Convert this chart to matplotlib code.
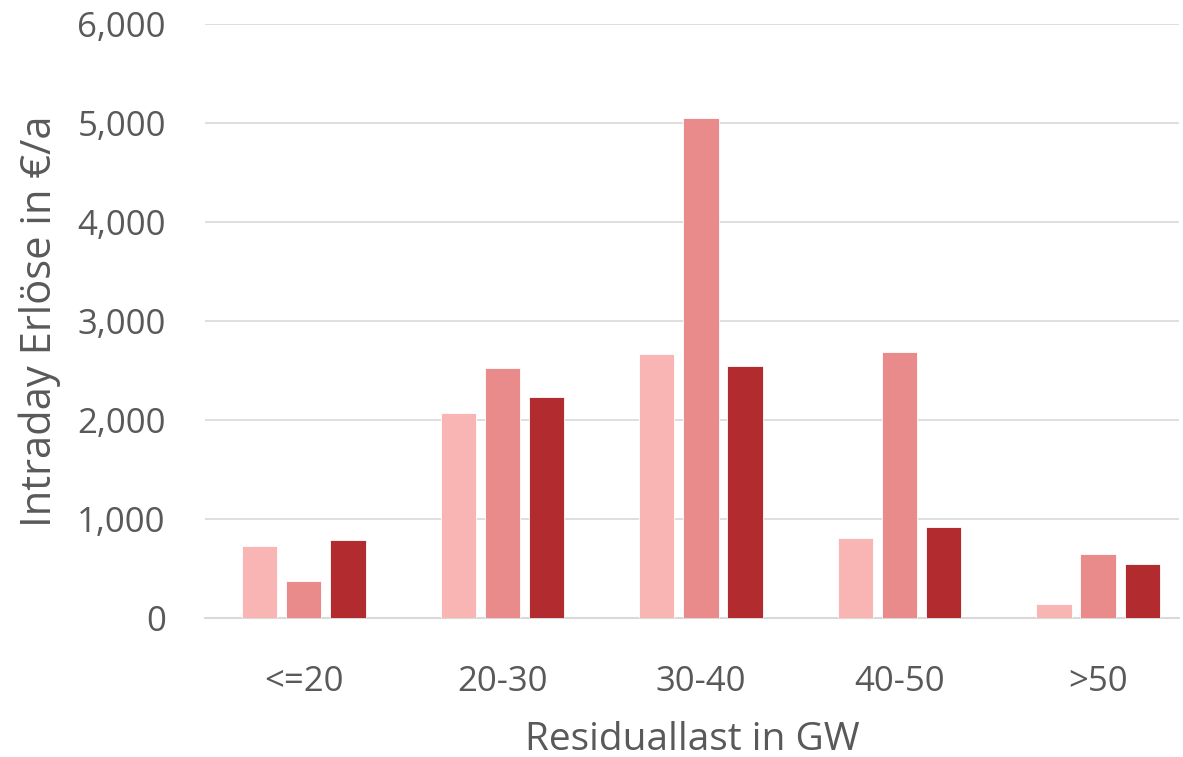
import numpy as np
import matplotlib.pyplot as plt

# data
categories = ["<=20", "20-30", "30-40", "40-50", ">50"]
series_a = [730, 2065, 2670, 810, 140]
series_b = [372, 2525, 5050, 2690, 645]
series_c = [790, 2230, 2540, 917, 543]
colors = ["#F9B4B4", "#E98B8B", "#B22B2F"]
y_ticks = [0, 1000, 2000, 3000, 4000, 5000, 6000]

plt.rcParams['font.family'] = ['Open Sans', 'DejaVu Sans']

fig = plt.figure(figsize=(11.83, 7.57), dpi=100)
ax = fig.add_axes([0.173, 0.184, 0.824, 0.784])

x = np.arange(len(categories))
w = 0.177
step = 0.222
for i, (vals, col) in enumerate(zip([series_a, series_b, series_c], colors)):
    ax.bar(x + (i - 1) * step, vals, width=w, color=col, zorder=3,
           edgecolor="white", linewidth=0.6)

ax.set_xlim(-0.5, 4.41)
ax.set_ylim(0, 6000)
ax.set_yticks(y_ticks)
ax.set_yticklabels([f"{v:,}" for v in y_ticks])
ax.set_xticks(x)
ax.set_xticklabels(categories)

ax.grid(axis="y", color="#D9D9D9", linewidth=1.2, zorder=0)
for s in ["top", "right", "left"]:
    ax.spines[s].set_visible(False)
ax.spines["bottom"].set_color("#D9D9D9")
ax.spines["bottom"].set_linewidth(1.5)
ax.tick_params(length=0, colors="#595959", labelsize=25)
ax.tick_params(axis="y", pad=28)
ax.tick_params(axis="x", pad=34)

ax.set_xlabel("Residuallast in GW", fontsize=28, color="#595959", labelpad=16)
ax.set_ylabel("Intraday Erlöse in €/a", fontsize=30, color="#595959", labelpad=12)

fig.savefig("out.png", dpi=100)
